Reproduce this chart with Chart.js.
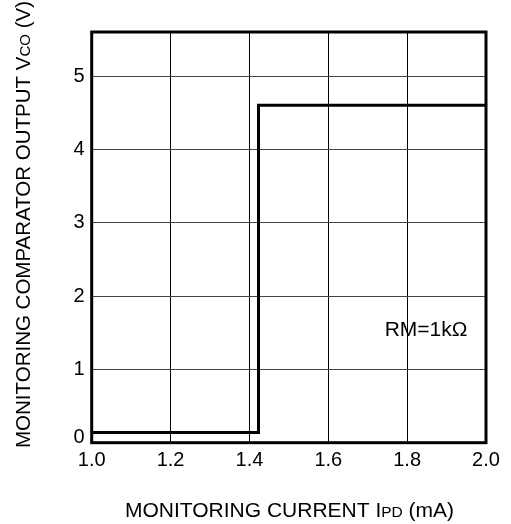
<!DOCTYPE html>
<html>
<head>
<meta charset="utf-8">
<script src="https://cdn.jsdelivr.net/npm/chart.js@4"></script>
<style>
html,body{margin:0;padding:0;background:#fff;}
#wrap{position:relative;width:511px;height:524px;}
</style>
</head>
<body>
<div id="wrap"><canvas id="c" width="511" height="524"></canvas></div>
<script>
// Data
const currentMA = [1.0, 1.423, 1.423, 2.0];
const outputV = [0.14, 0.14, 4.6, 4.6];
const xTicks = [1.0, 1.2, 1.4, 1.6, 1.8, 2.0];
const yTicks = [0, 1, 2, 3, 4, 5];
const xRange = [1.0, 2.0];
const yRange = [0, 5.6];
const annotationText = 'RM=1kΩ';
const annotationPos = [1.848, 1.53];
const xTitleParts = [['MONITORING CURRENT I', 21], ['PD', 15.5], [' (mA)', 21]];
const yTitleParts = [['MONITORING COMPARATOR OUTPUT V', 20.5], ['CO', 15], [' (V)', 20.5]];

const FONT = 'Arial, "Liberation Sans", sans-serif';

function drawParts(ctx, parts, cx, cy) {
  let total = 0;
  parts.forEach(p => { ctx.font = p[1] + 'px ' + FONT; total += ctx.measureText(p[0]).width; });
  let x = cx - total / 2;
  ctx.textBaseline = 'alphabetic';
  ctx.textAlign = 'left';
  parts.forEach(p => {
    ctx.font = p[1] + 'px ' + FONT;
    ctx.fillText(p[0], x, cy);
    x += ctx.measureText(p[0]).width;
  });
}

const decor = {
  id: 'decor',
  afterDraw(chart) {
    const ctx = chart.ctx, a = chart.chartArea;
    const xs = chart.scales.x, ys = chart.scales.y;
    ctx.save();
    ctx.strokeStyle = '#000';
    ctx.lineWidth = 3;
    ctx.strokeRect(a.left, a.top, a.right - a.left, a.bottom - a.top);
    ctx.fillStyle = '#000';
    ctx.font = '21px ' + FONT;
    ctx.textAlign = 'center';
    ctx.textBaseline = 'middle';
    ctx.fillText(annotationText, xs.getPixelForValue(annotationPos[0]), ys.getPixelForValue(annotationPos[1]));
    drawParts(ctx, xTitleParts, 289.5, 516.5);
    ctx.translate(30, 224.5);
    ctx.rotate(-Math.PI / 2);
    drawParts(ctx, yTitleParts, 0, 0);
    ctx.restore();
  }
};

new Chart(document.getElementById('c'), {
  type: 'line',
  data: {
    datasets: [{
      data: currentMA.map((x, i) => ({x: x, y: outputV[i]})),
      borderColor: '#000',
      borderWidth: 3,
      pointRadius: 0,
      fill: false,
      tension: 0
    }]
  },
  options: {
    responsive: false,
    animation: false,
    devicePixelRatio: 1,
    layout: {padding: {left: 0, right: 25, top: 32, bottom: 0}},
    plugins: {legend: {display: false}, tooltip: {enabled: false}},
    scales: {
      x: {
        type: 'linear', min: xRange[0], max: xRange[1],
        afterBuildTicks: s => { s.ticks = xTicks.map(v => ({value: v})); },
        afterFit: s => { s.height = 81.3; },
        grid: {color: '#000', lineWidth: 1, drawTicks: false},
        border: {display: false},
        ticks: {color: '#000', font: {size: 20, family: FONT}, padding: 6, maxRotation: 0,
          callback: v => Number(v).toFixed(1)}
      },
      y: {
        type: 'linear', min: yRange[0], max: yRange[1],
        afterBuildTicks: s => { s.ticks = yTicks.map(v => ({value: v})); },
        afterFit: s => { s.width = 91.7; },
        grid: {color: '#444', lineWidth: 1, drawTicks: false},
        border: {display: false},
        ticks: {color: '#000', padding: 7,
          font: c => (c.tick && c.tick.value === 0) ? {size: 20, family: FONT, lineHeight: 0.5} : {size: 20, family: FONT},
          callback: v => v === 0 ? ['0', ''] : String(v)}
      }
    }
  },
  plugins: [decor]
});
</script>
</body>
</html>
